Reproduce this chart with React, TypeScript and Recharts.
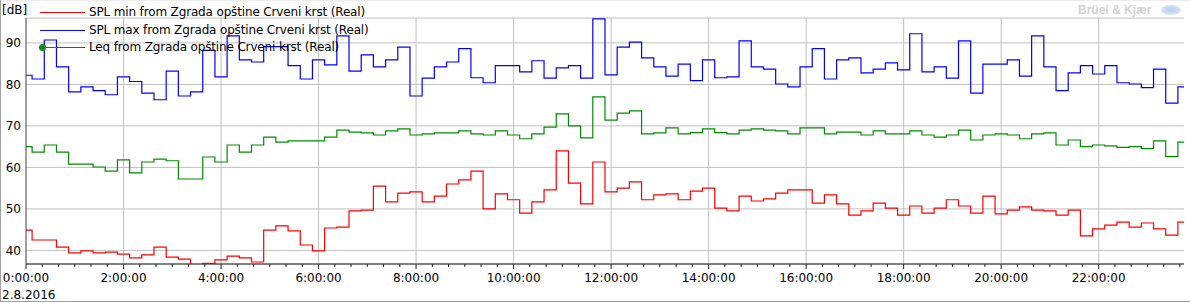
import React from 'react'
import {
  LineChart,
  Line,
  XAxis,
  YAxis,
  CartesianGrid,
} from 'recharts'

// 15 min intervals, boundaries at hh:07:30, hh:22:30 ... first value covers 0:00-0:07:30
const splMin = [
  44.9, 42.5, 42.5, 40.8, 39.4, 39.9, 39.4, 39.6, 39.1, 38.2, 38.9, 40.8,
  38.4, 37.9, 36.2, 36.9, 37.7, 38.6, 38.2, 37.2, 44.9, 45.9, 44.7, 41.3,
  39.9, 45.4, 45.6, 49.5, 49.7, 55.5, 51.7, 53.8, 54.1, 51.7, 53.1, 56.0,
  57.0, 59.1, 50.0, 53.6, 52.2, 49.0, 51.7, 54.6, 64.0, 56.2, 51.2, 61.3,
  54.1, 55.0, 56.5, 52.2, 53.4, 53.6, 52.2, 54.3, 55.0, 50.2, 49.5, 53.1,
  51.9, 52.4, 53.8, 54.6, 54.6, 51.4, 53.4, 51.2, 48.5, 49.5, 51.4, 50.2,
  48.5, 50.7, 49.0, 50.2, 52.2, 50.7, 49.0, 53.1, 48.8, 49.7, 50.5, 49.7,
  49.5, 48.5, 49.7, 43.5, 45.2, 46.1, 46.8, 45.6, 46.6, 45.2, 43.7, 46.8,
]

const splMax = [
  82.2, 81.3, 90.7, 84.2, 78.2, 79.4, 78.5, 77.5, 81.8, 80.7, 77.9, 76.3,
  83.2, 77.2, 78.2, 88.2, 81.8, 91.7, 85.9, 85.4, 89.1, 89.1, 84.5, 81.3,
  85.9, 84.7, 91.7, 83.2, 87.1, 84.2, 85.9, 89.0, 77.2, 81.5, 84.2, 85.4,
  88.6, 81.6, 80.4, 84.5, 84.5, 83.0, 85.7, 81.5, 84.0, 84.5, 81.5, 95.8,
  82.3, 89.0, 90.2, 86.4, 84.2, 82.0, 84.9, 80.9, 85.9, 81.6, 81.8, 90.5,
  84.2, 83.7, 80.1, 79.4, 84.2, 88.6, 81.3, 85.9, 86.4, 82.8, 83.7, 85.2,
  83.5, 92.2, 83.0, 84.2, 81.5, 90.5, 77.9, 84.9, 84.9, 85.9, 82.0, 91.7,
  84.2, 78.5, 82.8, 84.5, 82.5, 84.5, 80.4, 80.1, 79.2, 83.7, 75.5, 79.4,
]

const leq = [
  65.0, 63.7, 65.4, 63.7, 60.8, 60.8, 60.1, 59.1, 61.8, 58.7, 61.3, 62.0,
  61.6, 57.2, 57.2, 62.5, 61.3, 65.4, 63.7, 65.4, 67.3, 66.1, 66.4, 66.4,
  66.4, 67.3, 69.0, 68.5, 68.3, 67.8, 68.8, 69.3, 67.8, 68.1, 68.3, 68.3,
  68.8, 68.1, 67.8, 68.8, 67.8, 66.9, 68.1, 69.7, 72.9, 70.0, 67.1, 77.0,
  71.4, 73.1, 73.6, 68.1, 68.3, 69.5, 68.1, 68.4, 69.3, 68.4, 68.1, 69.0,
  69.3, 69.0, 68.8, 68.1, 69.5, 69.5, 68.1, 68.5, 68.5, 67.8, 68.8, 68.1,
  68.1, 68.8, 67.8, 67.3, 67.8, 69.0, 66.6, 67.8, 68.1, 67.8, 66.9, 68.1,
  68.3, 65.4, 66.6, 65.0, 65.4, 65.2, 64.8, 65.0, 64.5, 66.4, 62.6, 66.1,
]

// minutes from 0:00
const stepStarts = [0, ...splMin.slice(1).map((_, i) => 7.5 + 15 * i)]
const endTime = 1425

const timeLabels = [
  '0:00:00', '2:00:00', '4:00:00', '6:00:00', '8:00:00', '10:00:00',
  '12:00:00', '14:00:00', '16:00:00', '18:00:00', '20:00:00', '22:00:00',
]
const labelTimes = timeLabels.map((_, i) => i * 120)
const minorTimes = Array.from({ length: 72 }, (_, i) => i * 20)
const dateLabel = '2.8.2016'
const yTicks = [40, 50, 60, 70, 80, 90]

const series = [
  { key: 'min', name: 'SPL min from Zgrada opštine Crveni krst (Real)', color: '#ff0000' },
  { key: 'max', name: 'SPL max from Zgrada opštine Crveni krst (Real)', color: '#0000ff' },
  { key: 'leq', name: 'Leq from Zgrada opštine Crveni krst (Real)', color: '#008c00' },
]

const data = [
  ...stepStarts.map((t, i) => ({ t, min: splMin[i], max: splMax[i], leq: leq[i] })),
  {
    t: endTime,
    min: splMin[splMin.length - 1],
    max: splMax[splMax.length - 1],
    leq: leq[leq.length - 1],
  },
]

const font = '"DejaVu Sans", Verdana, sans-serif'

function TimeTick(props: any) {
  const { x, y, payload } = props
  const v = payload.value as number
  const idx = labelTimes.indexOf(v)
  const major = idx >= 0
  return (
    <g>
      <line x1={x} x2={x} y1={y} y2={y + (major ? 5 : 3)} stroke="#222" />
      {major && (
        <text x={x} y={y + 18} textAnchor="middle" fontSize={12} fill="#000" fontFamily={font}>
          {timeLabels[idx]}
        </text>
      )}
      {v === 0 && (
        <text x={x - 24} y={y + 35} textAnchor="start" fontSize={12} fill="#000" fontFamily={font}>
          {dateLabel}
        </text>
      )}
    </g>
  )
}

export default function App() {
  return (
    <div
      style={{
        position: 'relative',
        width: 1190,
        height: 302,
        background: '#fff',
        overflow: 'hidden',
        fontFamily: font,
      }}
    >
      <style>{'body{margin:0}'}</style>
      <LineChart
        width={1190}
        height={302}
        data={data}
        margin={{ top: 18, right: 6, left: 0, bottom: 0 }}
      >
        <CartesianGrid stroke="#c0c0c0" verticalValues={labelTimes.slice(1)} />
        <XAxis
          type="number"
          dataKey="t"
          domain={[0, endTime]}
          allowDataOverflow
          ticks={minorTimes}
          interval={0}
          tickLine={false}
          tickSize={0}
          tickMargin={0}
          height={38}
          stroke="#222"
          tick={<TimeTick />}
        />
        <YAxis
          type="number"
          domain={[36.72, 96]}
          allowDataOverflow
          ticks={yTicks}
          width={26}
          tickLine={false}
          tickSize={0}
          tickMargin={5}
          stroke="#404040"
          tick={{ fill: '#000', fontSize: 12, fontFamily: font }}
        />
        {series.map((s) => (
          <Line
            key={s.key}
            dataKey={s.key}
            name={s.name}
            type="stepAfter"
            stroke={s.color}
            strokeWidth={1.2}
            dot={false}
            activeDot={false}
            isAnimationActive={false}
          />
        ))}
      </LineChart>

      {/* unit label */}
      <div style={{ position: 'absolute', left: 2, top: 3, fontSize: 12, lineHeight: '14px' }}>
        [dB]
      </div>

      {/* legend */}
      {series.map((s, i) => (
        <div key={s.key}>
          <div
            style={{
              position: 'absolute',
              left: 40,
              top: 12 + i * 17.5,
              width: 45,
              height: 1,
              background: s.color,
            }}
          />
          <div
            style={{
              position: 'absolute',
              left: 89,
              top: 5 + i * 17.5,
              fontSize: 12,
              lineHeight: '14px',
              letterSpacing: '-0.15px',
              whiteSpace: 'nowrap',
              color: '#000',
            }}
          >
            {s.name}
          </div>
        </div>
      ))}
      <div
        style={{
          position: 'absolute',
          left: 39,
          top: 44,
          width: 7,
          height: 7,
          borderRadius: '50%',
          background: '#1b8a1b',
        }}
      />

      {/* watermark */}
      <div
        style={{
          position: 'absolute',
          left: 1078,
          top: 3,
          fontSize: 12,
          lineHeight: '14px',
          fontWeight: 'bold',
          fontFamily: '"Liberation Sans", Arial, sans-serif',
          color: '#d2d2d2',
        }}
      >
        Brüel &amp; Kjær
      </div>
      <div
        style={{
          position: 'absolute',
          left: 1161,
          top: 5,
          width: 20,
          height: 10,
          borderRadius: '50%',
          background: 'radial-gradient(#b8cdf0, #e4ecfa)',
        }}
      />

      {/* frame */}
      <div
        style={{
          position: 'absolute',
          left: 0,
          top: 0,
          width: 1190,
          height: 302,
          boxSizing: 'border-box',
          borderLeft: '1px solid #a0a0a0',
          borderBottom: '1px solid #a0a0a0',
          borderTop: '1px solid #ececec',
          pointerEvents: 'none',
        }}
      />
    </div>
  )
}
